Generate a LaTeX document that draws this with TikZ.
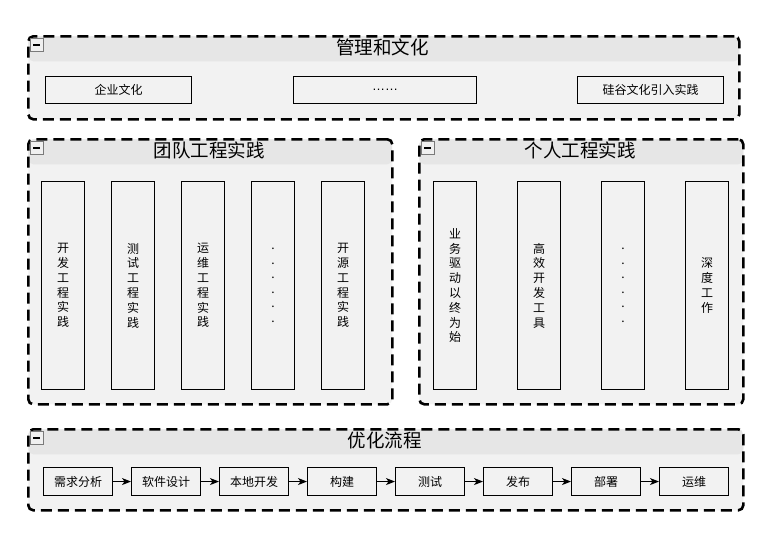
\documentclass[tikz,border=0pt]{standalone}
\usepackage{fontspec}
\setmainfont{Noto Sans CJK SC}
\newfontfamily\latinfont{Liberation Sans}
\usetikzlibrary{arrows.meta}
\definecolor{hdr}{HTML}{E6E6E6}
\definecolor{bodyc}{HTML}{F2F2F2}
\definecolor{icoborder}{HTML}{7A7A7A}
\tikzset{
  cont/.style={draw, line width=2.6pt, dash pattern=on 11pt off 6pt, rounded corners=5pt,
    fill=bodyc, anchor=north west, inner sep=0pt,
    path picture={\fill[hdr] (path picture bounding box.north west) rectangle ([yshift=-25pt]path picture bounding box.north east);}},
  ttl/.style={font=\fontsize{18.5}{22}\selectfont, inner sep=0pt},
  icon/.style={draw=icoborder, line width=0.8pt, fill=hdr!60!white, anchor=north west,
    minimum width=13pt, minimum height=13pt, inner sep=0pt,
    path picture={\draw[black, line width=1.2pt] ([xshift=-3.5pt]path picture bounding box.center) -- ([xshift=3.5pt]path picture bounding box.center);}},
  hbox/.style={draw, line width=1.1pt, fill=bodyc, anchor=north west, inner sep=0pt,
    minimum height=27pt, font=\fontsize{12}{14}\selectfont},
  vbox/.style={draw, line width=1.1pt, fill=bodyc, anchor=north west, inner sep=0pt,
    minimum width=43pt, minimum height=208pt, align=center, font=\fontsize{12}{14.8}\selectfont},
  dotbox/.style={vbox, font=\fontsize{12}{14.5}\selectfont},
  fbox/.style={draw, line width=1.1pt, fill=bodyc, anchor=north west, inner sep=0pt,
    minimum width=69pt, minimum height=28pt, font=\fontsize{12}{14}\selectfont},
  flow/.style={line width=1.1pt, -{Stealth[length=9pt, width=7pt, inset=2.5pt]}}
}
\begin{document}
\begin{tikzpicture}[x=1pt, y=-1pt]
\fill[white] (0,0) rectangle (764,536);
\useasboundingbox (0,0) rectangle (764,536);

% containers
\node[cont, minimum width=711pt, minimum height=83pt] (c1) at (27,35) {};
\node[cont, minimum width=364pt, minimum height=265pt] (c2) at (27,138) {};
\node[cont, minimum width=324pt, minimum height=265pt] (c3) at (418,138) {};
\node[cont, minimum width=715pt, minimum height=81pt] (c4) at (27,428) {};

% icons
\node[icon] (i1) at (30,38) {};
\node[icon] (i2) at (30,141) {};
\node[icon] (i3) at (421,141) {};
\node[icon] (i4) at (30,431) {};

% titles
\node[ttl] (t1) at (382.5,47.5) {管理和文化};
\node[ttl] (t2) at (209,150.5) {团队工程实践};
\node[ttl] (t3) at (580,150.5) {个人工程实践};
\node[ttl] (t4) at (384.5,440.5) {优化流程};

% top boxes
\node[hbox, minimum width=146pt] (a1) at (45,76) {企业文化};
\node[hbox, minimum width=183pt] (a2) at (293,76) {\latinfont\fontsize{13}{14}\selectfont ……};
\node[hbox, minimum width=146pt] (a3) at (577,76) {硅谷文化引入实践};

% team practice
\node[vbox] (b1) at (41,181) {开\\发\\工\\程\\实\\践};
\node[vbox] (b2) at (111,181) {测\\试\\工\\程\\实\\践};
\node[vbox] (b3) at (181,181) {运\\维\\工\\程\\实\\践};
\node[dotbox] (b4) at (251,181) {.\\.\\.\\.\\.\\.};
\node[vbox] (b5) at (321,181) {开\\源\\工\\程\\实\\践};

% personal practice
\node[vbox] (p1) at (433,181) {业\\务\\驱\\动\\以\\终\\为\\始};
\node[vbox] (p2) at (517,181) {高\\效\\开\\发\\工\\具};
\node[dotbox] (p3) at (601,181) {.\\.\\.\\.\\.\\.};
\node[vbox] (p4) at (685,181) {深\\度\\工\\作};

% flow
\node[fbox] (f1) at (43,467) {需求分析};
\node[fbox] (f2) at (131,467) {软件设计};
\node[fbox] (f3) at (219,467) {本地开发};
\node[fbox] (f4) at (307,467) {构建};
\node[fbox] (f5) at (395,467) {测试};
\node[fbox] (f6) at (483,467) {发布};
\node[fbox] (f7) at (571,467) {部署};
\node[fbox] (f8) at (659,467) {运维};
\foreach \a/\b in {f1/f2,f2/f3,f3/f4,f4/f5,f5/f6,f6/f7,f7/f8}
  \draw[flow] (\a) -- (\b);
\end{tikzpicture}
\end{document}
